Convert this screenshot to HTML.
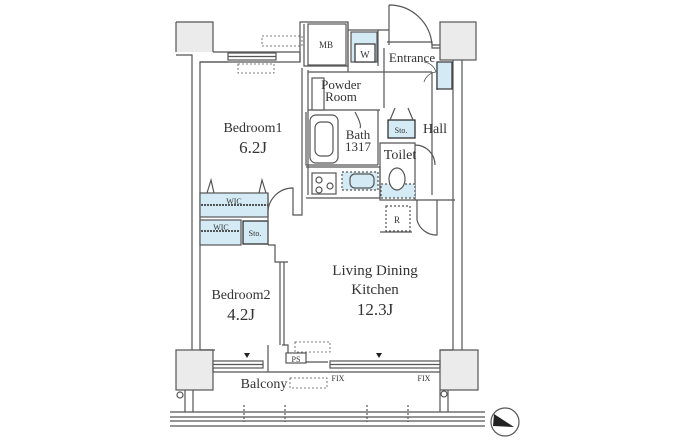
<!DOCTYPE html>
<html><head><meta charset="utf-8"><style>
html,body{margin:0;padding:0;background:#fff;}
svg{display:block;}
text{font-family:"Liberation Serif",serif;fill:#333;}
</style></head><body>
<svg width="700" height="446" viewBox="0 0 700 446" xmlns="http://www.w3.org/2000/svg">
<g fill="none" stroke="#555" stroke-width="1.2">
<rect x="176" y="22" width="37" height="30" fill="#ebebeb" stroke="none"/>
<path d="M176 22 H213 V52 M176 22 V52 M176 55 H192 V350 M200 350 V62 H228"/>
<path d="M213 52 H300 V62 H200" />
<rect x="228" y="53" width="48" height="7" fill="#fff"/>
<line x1="228" y1="56.5" x2="276" y2="56.5"/>
<rect x="262" y="36" width="40" height="10" stroke-dasharray="2,2" stroke-width="0.8"/>
<rect x="238" y="64" width="36" height="9" stroke-dasharray="2,2" stroke-width="0.8"/>
<path d="M300 62 V22 H348 V66 H304 V24" />
<rect x="308" y="24" width="38" height="41"/>
<path d="M348 22 V72 M348 30 H378 V66"/>
<rect x="351" y="32" width="26" height="30" fill="#d4ebf5"/>
<rect x="355" y="44" width="20" height="18" fill="#fff" stroke="#333"/>
<path d="M378 30 H389 V45 M389 5 A43 43 0 0 1 432 45 M389 5 V45"/>
<path d="M387 42 H432 V48 H450 M432 45 H455 M455 45 V60"/>
<path d="M384 48 V72 H432 M437 62 V90 M432 72 V195"/>
<rect x="437" y="62" width="15" height="27" fill="#d4ebf5" stroke="#333"/>
<path d="M436 72 A14 14 0 0 0 424 82 M436 72 A14 14 0 0 0 424 62" stroke-width="0.8"/>
<rect x="440" y="22" width="36" height="38" fill="#ebebeb"/>
<path d="M453 60 V350 M462 60 V350"/>
<path d="M302 68 V195 M308 70 V195 M308 72 H384 M384 72 V108 M308 110 H380"/>
<rect x="312" y="78" width="12" height="32" fill="#fff"/>
<rect x="310" y="115" width="28" height="48" rx="6"/>
<rect x="315" y="122" width="18" height="34" rx="6"/>
<path d="M306 112 V165 H378 M378 110 V165 M306 167 H380 V198 H306"/>
<rect x="312" y="173" width="24" height="21"/>
<circle cx="319" cy="180" r="3"/><circle cx="330" cy="186" r="3"/><circle cx="319" cy="190" r="3"/>
<rect x="342" y="172" width="36" height="18" fill="#d4ebf5" stroke-dasharray="2,2"/>
<rect x="350" y="174" width="24" height="14" rx="5"/>
<path d="M355 112 Q362 125 360 128"/>
<rect x="388" y="120" width="27" height="18" fill="#d4ebf5" stroke="#222"/>
<path d="M390 120 L395 108 M413 120 L408 108"/>
<path d="M380 143 H415 V200 H380 Z"/>
<rect x="381" y="184" width="34" height="14" fill="#d4ebf5" stroke-dasharray="2,2"/>
<ellipse cx="397" cy="179" rx="8" ry="11" fill="#fff"/>
<path d="M415 145 A20 20 0 0 1 435 165"/>
<path d="M415 200 H455 M417 200 V220 A20 20 0 0 0 437 235 V200"/>
<rect x="386" y="206" width="24" height="25" stroke-dasharray="2,2"/>
<path d="M380 232 H412"/>
<rect x="200" y="193" width="68" height="24" fill="#d4ebf5"/>
<line x1="201" y1="205" x2="268" y2="205" stroke="#222" stroke-dasharray="2,1" stroke-width="1.5"/>
<path d="M207 193 L211 180 L214 193 M259 193 L262 180 L266 193"/>
<rect x="200" y="220" width="41" height="25" fill="#d4ebf5"/>
<line x1="201" y1="231" x2="240" y2="231" stroke="#222" stroke-dasharray="2,1" stroke-width="1.5"/>
<rect x="243" y="221" width="25" height="23" fill="#d4ebf5" stroke="#222"/>
<path d="M268 193 V245 M268 215 A25 25 0 0 1 293 188 V215 H302 V195"/>
<path d="M268 245 H275 V262 H288 M280 262 V345 M284 262 V345 M282 345 H288 V350"/>
<path d="M200 350 H213 M288 350 V362 H328"/>
<rect x="176" y="350" width="37" height="40" fill="#ebebeb"/>
<rect x="440" y="350" width="38" height="40" fill="#ebebeb"/>
<path d="M200 350 H215 M440 350 H453"/>
<rect x="213" y="361" width="50" height="7" fill="#fff"/>
<line x1="213" y1="364.5" x2="263" y2="364.5"/>
<rect x="330" y="361" width="110" height="7" fill="#fff"/>
<line x1="330" y1="364.5" x2="440" y2="364.5"/>
<path d="M213 372 H440 M213 368 V372"/>
<rect x="286" y="353" width="20" height="10" fill="#fff"/>
<rect x="295" y="342" width="35" height="10" stroke-dasharray="2,2" stroke-width="0.8"/>
<rect x="290" y="378" width="37" height="10" stroke-dasharray="2,2" stroke-width="0.8"/>
<path d="M185 390 V412 M193 390 V412 M440 390 V412 M448 390 V412 M268 372 V345"/>
<path d="M170 412 H485 M170 417 H485 M170 421 H485 M170 426 H485"/>
<circle cx="180" cy="395" r="3"/><circle cx="444" cy="394" r="3"/>
<path d="M244 405 V422 M285 405 V422 M367 405 V422 M408 405 V422" stroke-dasharray="2,2"/>
<circle cx="505" cy="422" r="14"/>
</g>
<polygon points="244,353 250,353 247,358" fill="#222"/>
<polygon points="376,353 382,353 379,358" fill="#222"/>
<polygon points="494,414 514,427 493,426" fill="#222"/>
<g font-size="14" text-anchor="middle">
<text x="253" y="132">Bedroom1</text>
<text x="253" y="153" font-size="17">6.2J</text>
<text x="341" y="89" font-size="13">Powder</text>
<text x="341" y="101" font-size="13">Room</text>
<text x="358" y="139" font-size="13">Bath</text>
<text x="358" y="151" font-size="13">1317</text>
<text x="435" y="133">Hall</text>
<text x="400" y="159">Toilet</text>
<text x="412" y="62" font-size="13">Entrance</text>
<text x="326" y="48" font-size="9">MB</text>
<text x="365" y="58" font-size="10">W</text>
<text x="401" y="133" font-size="8">Sto.</text>
<text x="234" y="204" font-size="8">WIC</text>
<text x="221" y="230" font-size="8">WIC</text>
<text x="255" y="236" font-size="8">Sto.</text>
<text x="397" y="223" font-size="9">R</text>
<text x="375" y="275" font-size="15">Living Dining</text>
<text x="375" y="294" font-size="15">Kitchen</text>
<text x="375" y="315" font-size="17">12.3J</text>
<text x="241" y="299">Bedroom2</text>
<text x="241" y="320" font-size="17">4.2J</text>
<text x="264" y="388">Balcony</text>
<text x="296" y="362" font-size="8">PS</text>
<text x="338" y="381" font-size="8">FIX</text>
<text x="424" y="381" font-size="8">FIX</text>
</g>
</svg>
</body></html>
